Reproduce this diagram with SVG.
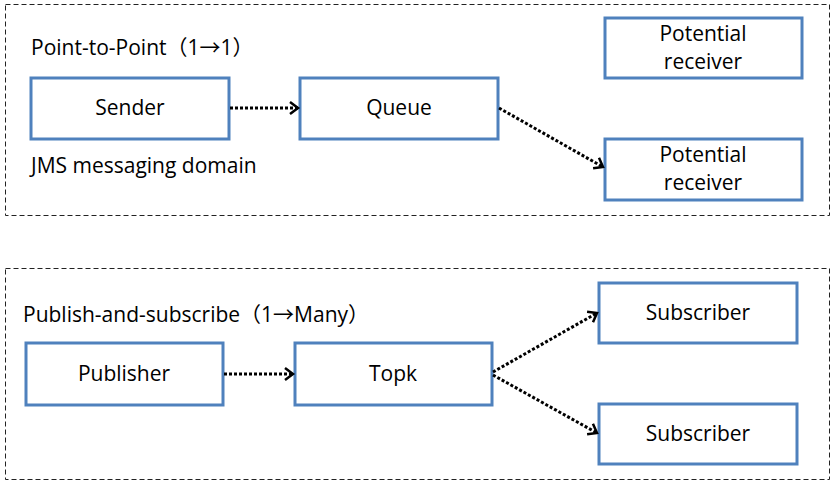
<svg xmlns="http://www.w3.org/2000/svg" width="835" height="487" viewBox="0 0 835 487">
<style>
.frame{fill:none;stroke:#222;stroke-width:1;stroke-dasharray:5 3}
.box{fill:#fff;stroke:#4F81BD;stroke-width:3}
text{font-family:"Open Sans","Noto Sans CJK SC",sans-serif;font-size:21px;fill:#000}
.c{text-anchor:middle}
.conn{fill:none;stroke:#000;stroke-width:3;stroke-dasharray:3 2}
</style>
<defs>
<marker id="ah" markerUnits="userSpaceOnUse" markerWidth="16" markerHeight="16" refX="12" refY="8" orient="auto">
<path d="M4,2 L12,8 L4,14" fill="none" stroke="#000" stroke-width="2.5"/>
</marker>
</defs>
<rect class="frame" x="5.5" y="4.5" width="824" height="211"/>
<rect class="frame" x="5.5" y="268.5" width="824" height="211"/>
<text x="31" y="55">Point-to-Point（1→1）</text>
<text x="31" y="173">JMS messaging domain</text>
<text x="23" y="322">Publish-and-subscribe（1→Many）</text>
<g id="sender"><rect class="box" x="31" y="78" width="198" height="61"/><text class="c" x="130" y="115">Sender</text></g>
<g id="queue"><rect class="box" x="300" y="78" width="198" height="61"/><text class="c" x="399" y="115">Queue</text></g>
<g id="receiver1"><rect class="box" x="605" y="18" width="197" height="60"/><text class="c" x="703" y="41">Potential</text><text class="c" x="703" y="69">receiver</text></g>
<g id="receiver2"><rect class="box" x="605" y="139" width="197" height="61"/><text class="c" x="703" y="162">Potential</text><text class="c" x="703" y="190">receiver</text></g>
<g id="publisher"><rect class="box" x="26" y="343" width="197" height="62"/><text class="c" x="124" y="381">Publisher</text></g>
<g id="topk"><rect class="box" x="295" y="343" width="197" height="62"/><text class="c" x="393" y="381">Topk</text></g>
<g id="subscriber1"><rect class="box" x="599" y="283" width="198" height="60"/><text class="c" x="698" y="320">Subscriber</text></g>
<g id="subscriber2"><rect class="box" x="599" y="404" width="198" height="60"/><text class="c" x="698" y="441">Subscriber</text></g>
<g id="connectors">
<path class="conn" d="M230,108 L298,108" marker-end="url(#ah)"/>
<path class="conn" d="M499,108 L603,167" marker-end="url(#ah)"/>
<path class="conn" d="M224,374 L293,374" marker-end="url(#ah)"/>
<path class="conn" d="M493,372 L597,313" marker-end="url(#ah)"/>
<path class="conn" d="M493,375 L597,433" marker-end="url(#ah)"/>
</g>
</svg>
